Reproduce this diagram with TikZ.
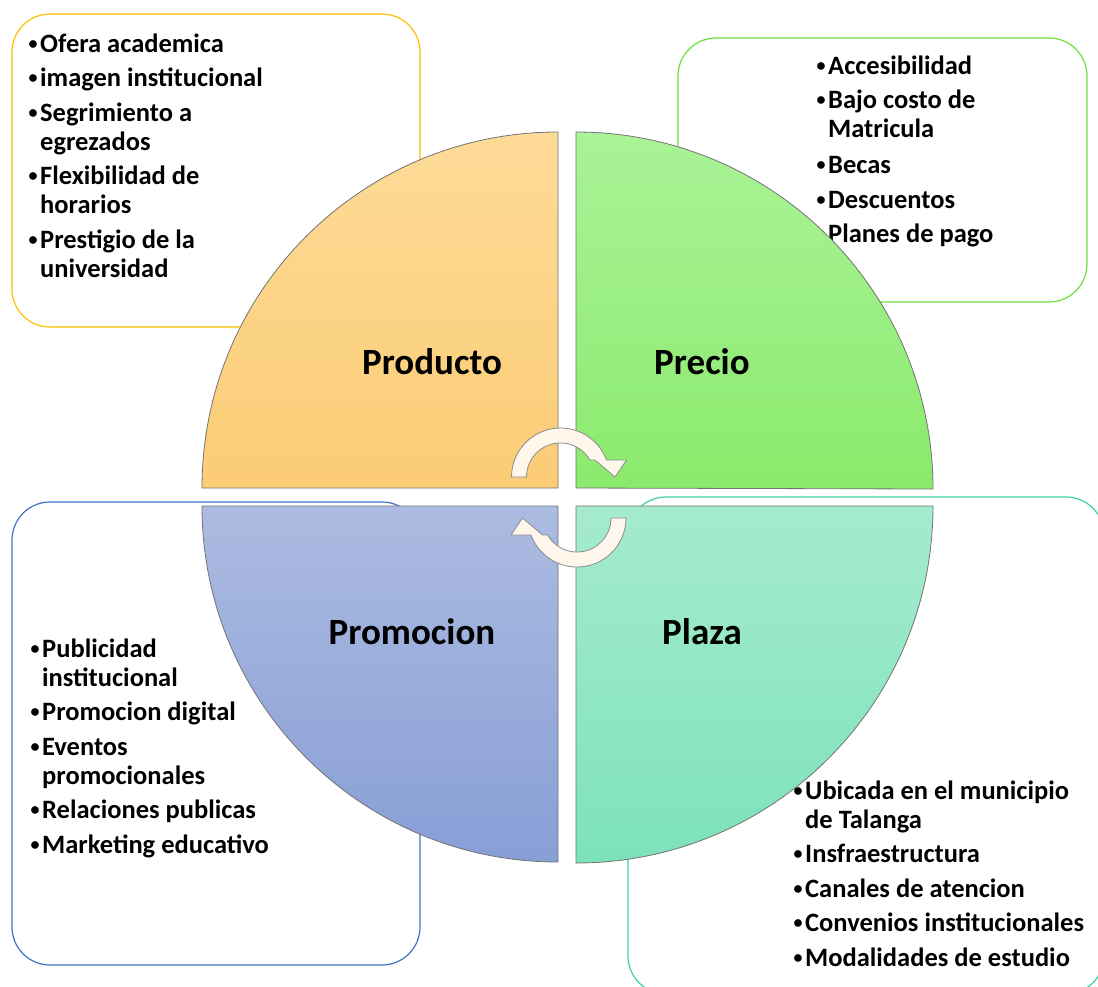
\documentclass[tikz,border=0pt]{standalone}
\usepackage{fontspec}
\setmainfont{Carlito}
\usetikzlibrary{shapes}

\definecolor{bordeProducto}{RGB}{255,192,0}
\definecolor{bordePrecio}{RGB}{110,222,60}
\definecolor{bordePromocion}{RGB}{68,114,196}
\definecolor{bordePlaza}{RGB}{60,212,150}
\definecolor{productoA}{RGB}{253,219,152}
\definecolor{productoB}{RGB}{252,204,118}
\definecolor{precioA}{RGB}{170,243,152}
\definecolor{precioB}{RGB}{138,234,108}
\definecolor{promocionA}{RGB}{172,187,224}
\definecolor{promocionB}{RGB}{136,158,214}
\definecolor{plazaA}{RGB}{166,235,206}
\definecolor{plazaB}{RGB}{124,226,186}
\definecolor{flechaRelleno}{RGB}{255,246,236}

% small bullet and the indent of a wrapped line
\newcommand{\vineta}{\makebox[13pt][l]{\hspace{1.5pt}\raisebox{2.6pt}{\fontsize{18}{18}\selectfont•}}}
\newcommand{\sangria}{\hspace*{13pt}}
% curved arrow of the cycle, drawn around (0,0) with y up
\newcommand{\flechaCiclo}{(-49,0) arc[start angle=180,end angle=20.3,radius=49]
  -- (66,17) -- (54.5,0) -- (34.5,17) -- (29.4,17)
  arc[start angle=30,end angle=180,radius=34] -- cycle}

\tikzset{
  caja/.style={rounded corners=38pt, line width=1.2pt, fill=white},
  item/.style={anchor=base west, align=left, inner sep=0pt,
    font=\fontsize{26.5}{29}\selectfont\bfseries},
  titulo/.style={anchor=base, inner sep=0pt, font=\fontsize{37}{44}\selectfont\bfseries},
  cuadrante/.style={draw=black!55, line width=0.8pt},
  flecha/.style={fill=flechaRelleno, draw=black!45, line width=0.8pt}
}

\begin{document}
\begin{tikzpicture}[x=1pt,y=-1pt]
\useasboundingbox (0,0) rectangle (1098,986);
\clip (0,0) rectangle (1098,986);

% boxes with the lists (two-line items sit on their last baseline)
\draw[caja,draw=bordeProducto] (12,14) rectangle (420,327);
\draw[caja,draw=bordePrecio] (678,38) rectangle (1087,302);
\draw[caja,draw=bordePromocion] (12,502) rectangle (420,965);
\draw[caja,draw=bordePlaza] (628,497) rectangle (1104,994);

\path (27,52) node[item] (prod1) {\vineta Ofera academica}
(27,86.5) node[item] (prod2) {\vineta imagen institucional}
(27,150) node[item] (prod3) {\vineta Segrimiento a\\\sangria egrezados}
(27,213.5) node[item] (prod4) {\vineta Flexibilidad de\\\sangria horarios}
(27,277) node[item] (prod5) {\vineta Prestigio de la\\\sangria universidad};

\path (815,74) node[item] (prec1) {\vineta Accesibilidad}
(815,137.5) node[item] (prec2) {\vineta Bajo costo de\\\sangria Matricula}
(815,173) node[item] (prec3) {\vineta Becas}
(815,208) node[item] (prec4) {\vineta Descuentos}
(815,242) node[item] (prec5) {\vineta Planes de pago};

\path (29,686) node[item] (prom1) {\vineta Publicidad\\\sangria institucional}
(29,720.5) node[item] (prom2) {\vineta Promocion digital}
(29,784) node[item] (prom3) {\vineta Eventos\\\sangria promocionales}
(29,818.5) node[item] (prom4) {\vineta Relaciones publicas}
(29,853) node[item] (prom5) {\vineta Marketing educativo};

\path (792,828) node[item] (plaz1) {\vineta Ubicada en el municipio\\\sangria de Talanga}
(792,862.5) node[item] (plaz2) {\vineta Insfraestructura}
(792,897) node[item] (plaz3) {\vineta Canales de atencion}
(792,931.5) node[item] (plaz4) {\vineta Convenios institucionales}
(792,966) node[item] (plaz5) {\vineta Modalidades de estudio};

% the four quarters
\draw[cuadrante,top color=productoA,bottom color=productoB]
  (558,488) -- (202,488) arc[start angle=180,end angle=270,radius=356] -- cycle;
\draw[cuadrante,top color=precioA,bottom color=precioB]
  (576,488) -- (576,132) arc[start angle=270,end angle=360,radius=357] -- cycle;
\draw[cuadrante,top color=plazaA,bottom color=plazaB]
  (576,506) -- (933,506) arc[start angle=0,end angle=90,radius=357] -- cycle;
\draw[cuadrante,top color=promocionA,bottom color=promocionB]
  (558,506) -- (558,862) arc[start angle=90,end angle=180,radius=356] -- cycle;

\path (432,374) node[titulo] (producto) {Producto}
(702,374) node[titulo] (precio) {Precio}
(412,644) node[titulo] (promocion) {Promocion}
(702,644) node[titulo] (plaza) {Plaza};

% arrows in the middle
\draw[flecha,shift={(560.5,477)},yscale=-1] \flechaCiclo;
\draw[flecha,shift={(577,518)},xscale=-1] \flechaCiclo;

\end{tikzpicture}
\end{document}
